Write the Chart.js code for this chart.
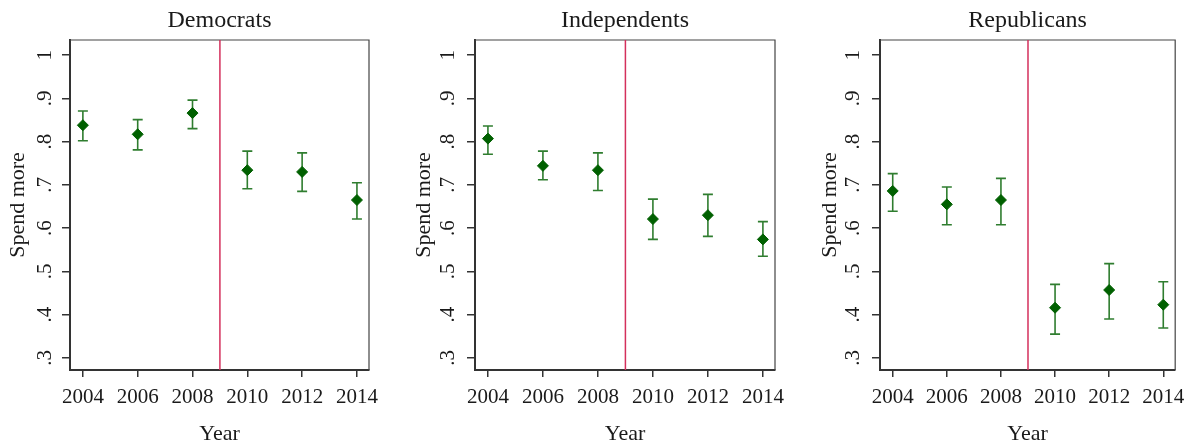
<!DOCTYPE html>
<html>
<head>
<meta charset="utf-8">
<script src="https://cdn.jsdelivr.net/npm/chart.js@4"></script>
<style>
  html, body { margin: 0; padding: 0; background: #fff; overflow: hidden; }
  .panel { position: absolute; top: 0; height: 444px; }
</style>
</head>
<body>
<div class="panel" style="left:0;width:400px"><canvas id="c0"></canvas></div>
<div class="panel" style="left:400px;width:395px"><canvas id="c1"></canvas></div>
<div class="panel" style="left:795px;width:398px"><canvas id="c2"></canvas></div>
<script>
// data
const years = [2004, 2006, 2008, 2010, 2012, 2014];
const breakYear = 2009;
const yTicks = [0.3, 0.4, 0.5, 0.6, 0.7, 0.8, 0.9, 1.0];
const yTickLabels = ['.3', '.4', '.5', '.6', '.7', '.8', '.9', '1'];
const xTicks = [2004, 2006, 2008, 2010, 2012, 2014];

const demMean = [0.838, 0.817, 0.866, 0.734, 0.730, 0.665];
const demLow  = [0.802, 0.781, 0.830, 0.691, 0.685, 0.621];
const demHigh = [0.871, 0.851, 0.896, 0.778, 0.774, 0.705];

const indMean = [0.807, 0.744, 0.734, 0.621, 0.630, 0.574];
const indLow  = [0.771, 0.712, 0.687, 0.574, 0.581, 0.535];
const indHigh = [0.836, 0.778, 0.774, 0.667, 0.678, 0.615];

const repMean = [0.686, 0.655, 0.665, 0.416, 0.457, 0.423];
const repLow  = [0.639, 0.608, 0.608, 0.355, 0.390, 0.369];
const repHigh = [0.726, 0.695, 0.715, 0.470, 0.518, 0.476];

const panels = [
  { id: 'c0', title: 'Democrats', mean: demMean, low: demLow, high: demHigh,
    yWidth: 70, right: 31, yTitlePad: 5, yTickPad: 9 },
  { id: 'c1', title: 'Independents', mean: indMean, low: indLow, high: indHigh,
    yWidth: 75, right: 20, yTitlePad: 11, yTickPad: 11 },
  { id: 'c2', title: 'Republicans', mean: repMean, low: repLow, high: repHigh,
    yWidth: 85, right: 13, yTitlePad: 22, yTickPad: 11 }
];

const serif = 'Liberation Serif';
const textColor = '#1a1a1a';

// error bars, the 2009 break line and the top/right frame
const extras = {
  id: 'extras',
  beforeDatasetsDraw(chart, args, opts) {
    const { ctx, chartArea: a, scales: { x, y } } = chart;
    ctx.save();
    // frame top + right
    ctx.strokeStyle = '#444';
    ctx.lineWidth = 1.2;
    ctx.beginPath();
    ctx.moveTo(a.left, a.top);
    ctx.lineTo(a.right, a.top);
    ctx.lineTo(a.right, a.bottom);
    ctx.stroke();
    // break line
    const bx = x.getPixelForValue(breakYear);
    ctx.strokeStyle = '#d42f5c';
    ctx.lineWidth = 1.5;
    ctx.beginPath();
    ctx.moveTo(bx, a.top);
    ctx.lineTo(bx, a.bottom);
    ctx.stroke();
    // error bars
    ctx.strokeStyle = '#2f7d2f';
    ctx.lineWidth = 1.6;
    const cap = 5;
    years.forEach((yr, i) => {
      const px = x.getPixelForValue(yr);
      const lo = y.getPixelForValue(opts.low[i]);
      const hi = y.getPixelForValue(opts.high[i]);
      ctx.beginPath();
      ctx.moveTo(px, lo); ctx.lineTo(px, hi);
      ctx.moveTo(px - cap, lo); ctx.lineTo(px + cap, lo);
      ctx.moveTo(px - cap, hi); ctx.lineTo(px + cap, hi);
      ctx.stroke();
    });
    ctx.restore();
  }
};

panels.forEach(p => {
  new Chart(document.getElementById(p.id), {
    type: 'scatter',
    data: {
      datasets: [{
        data: years.map((yr, i) => ({ x: yr, y: p.mean[i] })),
        pointStyle: 'rectRot',
        pointRadius: 5.5,
        backgroundColor: '#006000',
        borderColor: '#006000',
        borderWidth: 1
      }]
    },
    plugins: [extras],
    options: {
      responsive: true,
      maintainAspectRatio: false,
      animation: false,
      layout: { padding: { left: 0, right: p.right, top: 0, bottom: 0 } },
      plugins: {
        legend: { display: false },
        tooltip: { enabled: false },
        title: {
          display: true,
          text: p.title,
          fullSize: false,
          color: textColor,
          font: { family: serif, size: 24, weight: 'normal', lineHeight: 1.2 },
          padding: { top: 6.6, bottom: 4.6 }
        },
        extras: { low: p.low, high: p.high }
      },
      scales: {
        x: {
          type: 'linear',
          min: 2003.53,
          max: 2014.44,
          afterBuildTicks: s => { s.ticks = xTicks.map(v => ({ value: v })); },
          afterFit: s => { s.height = 74; },
          ticks: {
            color: textColor,
            font: { family: serif, size: 21, lineHeight: 1.2 },
            padding: 8,
            maxRotation: 0,
            autoSkip: false,
            callback: v => String(v)
          },
          grid: { drawOnChartArea: false, drawTicks: true, tickLength: 7, color: '#333', lineWidth: 1.5 },
          border: { display: true, color: '#333', width: 2 },
          title: {
            display: true,
            text: 'Year',
            color: textColor,
            font: { family: serif, size: 22, lineHeight: 1.2 },
            padding: { top: 0, bottom: -3 }
          }
        },
        y: {
          min: 0.272,
          max: 1.035,
          afterBuildTicks: s => { s.ticks = yTicks.map(v => ({ value: v })); },
          afterFit: s => { s.width = p.yWidth; },
          ticks: {
            color: textColor,
            font: { family: serif, size: 21, lineHeight: 1.2 },
            padding: p.yTickPad,
            minRotation: 90,
            maxRotation: 90,
            crossAlign: 'center',
            autoSkip: false,
            callback: v => yTickLabels[yTicks.findIndex(t => Math.abs(t - v) < 1e-6)]
          },
          grid: { drawOnChartArea: false, drawTicks: true, tickLength: 8, color: '#333', lineWidth: 1.5 },
          border: { display: true, color: '#333', width: 2 },
          title: {
            display: true,
            text: 'Spend more',
            color: textColor,
            font: { family: serif, size: 22, lineHeight: 1.2 },
            padding: { top: p.yTitlePad, bottom: 0 }
          }
        }
      }
    }
  });
});
</script>
</body>
</html>
